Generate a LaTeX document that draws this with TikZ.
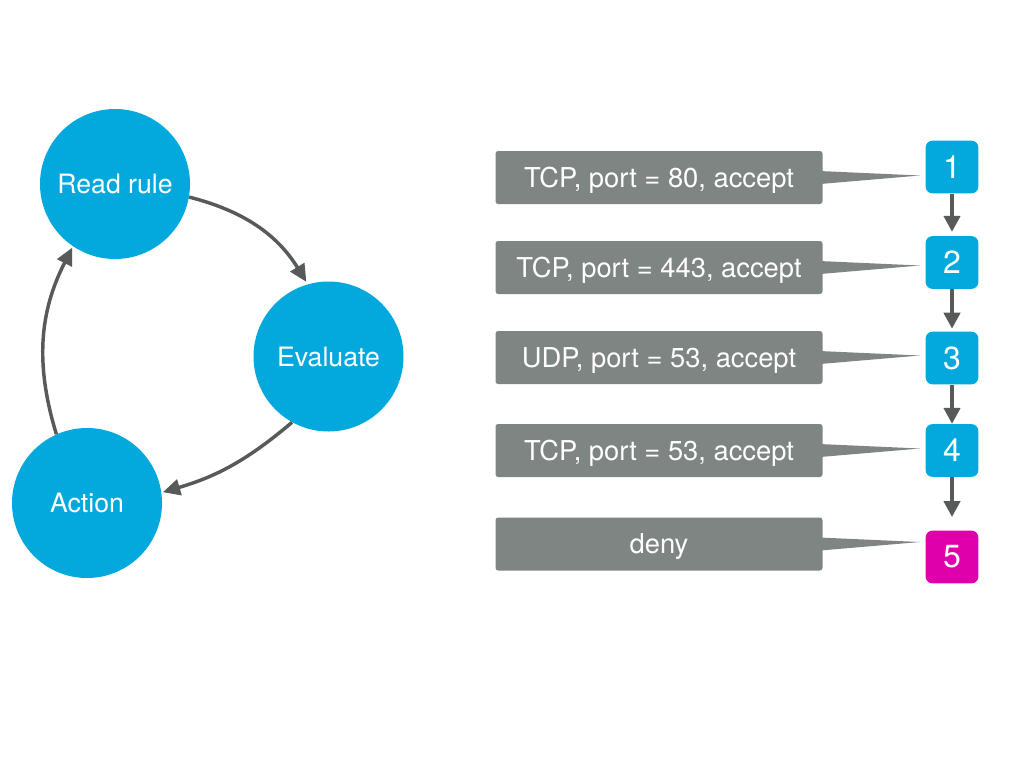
\documentclass[tikz,border=0pt]{standalone}
\usepackage{fontspec}
\setmainfont{TeX Gyre Heros}
\usetikzlibrary{arrows.meta}
\usetikzlibrary{positioning}

\definecolor{ruleblue}{HTML}{03A9DC}
\definecolor{rulegray}{HTML}{7F8582}
\definecolor{denypink}{HTML}{DF00AC}
\definecolor{arrowgray}{HTML}{575A59}

\tikzset{
  loopnode/.style={circle,fill=ruleblue,text=white,minimum size=112.5pt,inner sep=0pt,
    text height=14.4pt,text depth=0pt,font=\fontsize{20}{24}\selectfont},
  rulebox/.style={fill=rulegray,text=white,rounded corners=2pt,minimum width=245.25pt,
    minimum height=39.75pt,inner sep=0pt,text height=14.7pt,text depth=0pt,
    font=\fontsize{20.5}{24}\selectfont},
  numbox/.style={fill=#1,text=white,rounded corners=5pt,minimum width=39.5pt,
    minimum height=39.5pt,inner sep=0pt,font=\fontsize{24}{28}\selectfont},
  flow/.style={-{Triangle[length=13pt,width=12pt]},arrowgray,line width=2.6pt},
  stepflow/.style={-{Triangle[length=12pt,width=12pt]},arrowgray,line width=3pt}
}

\begin{document}
\begin{tikzpicture}[x=0.75pt,y=0.75pt]
    \useasboundingbox (0,0) rectangle (1024,-768);

    % the loop
    \node[loopnode] (read) at (115,-184) {Read rule};
    \node[loopnode] (eval) at (328.5,-356.5) {Evaluate};
    \node[loopnode] (act) at (87,-503) {Action};
    \draw[flow,shorten >=2pt] (read.-10) to[bend left=22] (eval.106);
    \draw[flow,shorten >=1pt] (eval.241) to[bend left=12] (act.8);
    \draw[flow,shorten >=1pt] (act.114) to[bend left=22] (read.236);

    % the rule list
    \foreach \i/\yb/\yn/\col/\txt in {1/177.5/167/ruleblue/{TCP, port = 80, accept},
        2/267.5/262.5/ruleblue/{TCP, port = 443, accept},
        3/357.5/358/ruleblue/{UDP, port = 53, accept},
        4/450.5/450.5/ruleblue/{TCP, port = 53, accept},
        5/544/557/denypink/{deny}} {
      \node[rulebox] (box\i) at (659,-\yb) {\txt};
      \node[numbox=\col] (num\i) at (952,-\yn) {\i};
      \coordinate (tip\i) at (920,-\yb+2);
      \fill[rulegray] ([xshift=-1pt,yshift=4.8pt]box\i.east) -- (tip\i)
        -- ([xshift=-1pt,yshift=-4.8pt]box\i.east) -- cycle;
    }
    \foreach \a/\b/\gap in {1/2/3pt,2/3/2pt,3/4/0pt,4/5/10pt}
      \draw[stepflow,shorten >=\gap] (num\a.south) -- (num\b.north);

\end{tikzpicture}
\end{document}
